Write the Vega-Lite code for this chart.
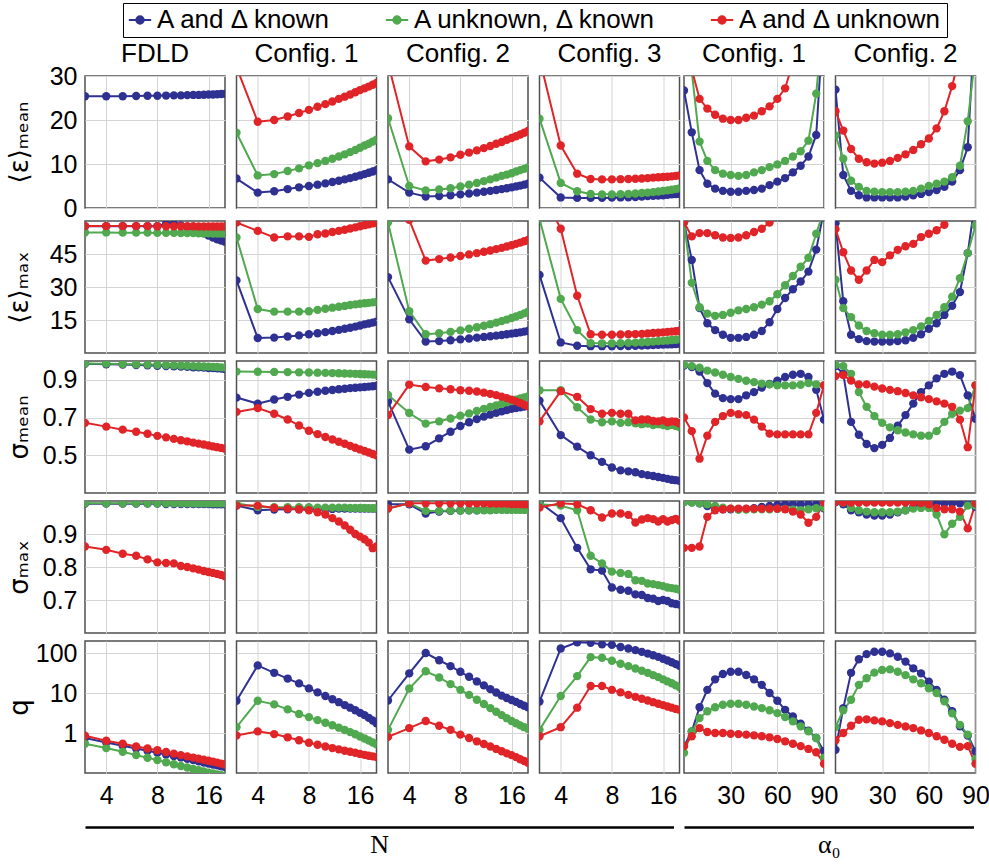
{
"$schema": "https://vega.github.io/schema/vega-lite/v6.json",
"padding": {"left": 6, "top": 2, "right": 0, "bottom": 2},
"background": "white",
"config": {
 "font": "Liberation Sans",
 "view": {"stroke": "#505050", "strokeWidth": 1.5},
 "axis": {"labelFont": "Liberation Sans", "labelFontSize": 25, "labelColor": "#000", "titleFont": "DejaVu Sans", "titleFontSize": 26, "titleFontWeight": "normal", "titleColor": "#000", "ticks": false, "domain": false, "gridColor": "#d4d4d4", "gridWidth": 1, "labelFlush": false, "labelOverlap": false},
 "header": {"labelFont": "Liberation Sans", "labelFontSize": 26, "labelColor": "#000"},
 "line": {"strokeWidth": 2},
 "point": {"filled": true, "size": 70, "opacity": 1}
},
"datasets": {"d": [
{"m":"e1","p":"F","x":3,"a":25.4},{"m":"e1","p":"F","x":4,"a":25.4},{"m":"e1","p":"F","x":5,"a":25.4},{"m":"e1","p":"F","x":6,"a":25.45},{"m":"e1","p":"F","x":7,"a":25.5},{"m":"e1","p":"F","x":8,"a":25.5},{"m":"e1","p":"F","x":9,"a":25.55},{"m":"e1","p":"F","x":10,"a":25.6},{"m":"e1","p":"F","x":11,"a":25.6},{"m":"e1","p":"F","x":12,"a":25.65},{"m":"e1","p":"F","x":13,"a":25.7},{"m":"e1","p":"F","x":14,"a":25.7},{"m":"e1","p":"F","x":15,"a":25.75},{"m":"e1","p":"F","x":16,"a":25.8},{"m":"e1","p":"F","x":17,"a":25.8},{"m":"e1","p":"F","x":18,"a":25.85},{"m":"e1","p":"F","x":19,"a":25.9},{"m":"e1","p":"F","x":20,"a":25.95},
{"m":"e2","p":"F","x":3,"a":57.6,"b":54.8,"c":57.7},{"m":"e2","p":"F","x":4,"a":57.6,"b":54.8,"c":57.7},{"m":"e2","p":"F","x":5,"a":57.6,"b":54.7,"c":57.7},{"m":"e2","p":"F","x":6,"a":57.6,"b":54.7,"c":57.7},{"m":"e2","p":"F","x":7,"a":57.6,"b":54.7,"c":57.7},{"m":"e2","p":"F","x":8,"a":57.6,"b":54.6,"c":57.6},{"m":"e2","p":"F","x":9,"a":58.8,"b":54.6,"c":57.6},{"m":"e2","p":"F","x":10,"a":58.6,"b":54.6,"c":57.6},{"m":"e2","p":"F","x":11,"a":58.0,"b":54.5,"c":57.6},{"m":"e2","p":"F","x":12,"a":57.3,"b":54.5,"c":57.6},{"m":"e2","p":"F","x":13,"a":56.5,"b":54.5,"c":57.6},{"m":"e2","p":"F","x":14,"a":55.5,"b":54.4,"c":57.5},{"m":"e2","p":"F","x":15,"a":54.4,"b":54.4,"c":57.5},{"m":"e2","p":"F","x":16,"a":53.4,"b":54.4,"c":57.5},{"m":"e2","p":"F","x":17,"a":52.5,"b":54.3,"c":57.5},{"m":"e2","p":"F","x":18,"a":51.7,"b":54.3,"c":57.5},{"m":"e2","p":"F","x":19,"a":51.1,"b":54.3,"c":57.5},{"m":"e2","p":"F","x":20,"a":50.6,"b":54.3,"c":57.5},
{"m":"s1","p":"F","x":3,"a":0.985,"b":0.987,"c":0.672},{"m":"s1","p":"F","x":4,"a":0.983,"b":0.986,"c":0.652},{"m":"s1","p":"F","x":5,"a":0.981,"b":0.984,"c":0.636},{"m":"s1","p":"F","x":6,"a":0.979,"b":0.983,"c":0.625},{"m":"s1","p":"F","x":7,"a":0.977,"b":0.981,"c":0.614},{"m":"s1","p":"F","x":8,"a":0.975,"b":0.98,"c":0.603},{"m":"s1","p":"F","x":9,"a":0.973,"b":0.978,"c":0.595},{"m":"s1","p":"F","x":10,"a":0.972,"b":0.977,"c":0.587},{"m":"s1","p":"F","x":11,"a":0.97,"b":0.976,"c":0.58},{"m":"s1","p":"F","x":12,"a":0.969,"b":0.975,"c":0.574},{"m":"s1","p":"F","x":13,"a":0.967,"b":0.973,"c":0.567},{"m":"s1","p":"F","x":14,"a":0.966,"b":0.972,"c":0.562},{"m":"s1","p":"F","x":15,"a":0.965,"b":0.971,"c":0.557},{"m":"s1","p":"F","x":16,"a":0.963,"b":0.97,"c":0.552},{"m":"s1","p":"F","x":17,"a":0.962,"b":0.969,"c":0.547},{"m":"s1","p":"F","x":18,"a":0.961,"b":0.968,"c":0.543},{"m":"s1","p":"F","x":19,"a":0.96,"b":0.966,"c":0.539},{"m":"s1","p":"F","x":20,"a":0.958,"b":0.965,"c":0.535},
{"m":"s2","p":"F","x":3,"a":0.992,"b":0.993,"c":0.862},{"m":"s2","p":"F","x":4,"a":0.992,"b":0.993,"c":0.852},{"m":"s2","p":"F","x":5,"a":0.992,"b":0.993,"c":0.84},{"m":"s2","p":"F","x":6,"a":0.992,"b":0.993,"c":0.834},{"m":"s2","p":"F","x":7,"a":0.992,"b":0.993,"c":0.823},{"m":"s2","p":"F","x":8,"a":0.992,"b":0.993,"c":0.814},{"m":"s2","p":"F","x":9,"a":0.991,"b":0.993,"c":0.812},{"m":"s2","p":"F","x":10,"a":0.991,"b":0.993,"c":0.811},{"m":"s2","p":"F","x":11,"a":0.991,"b":0.993,"c":0.803},{"m":"s2","p":"F","x":12,"a":0.991,"b":0.993,"c":0.8},{"m":"s2","p":"F","x":13,"a":0.991,"b":0.993,"c":0.796},{"m":"s2","p":"F","x":14,"a":0.991,"b":0.993,"c":0.792},{"m":"s2","p":"F","x":15,"a":0.991,"b":0.993,"c":0.788},{"m":"s2","p":"F","x":16,"a":0.991,"b":0.993,"c":0.785},{"m":"s2","p":"F","x":17,"a":0.99,"b":0.993,"c":0.782},{"m":"s2","p":"F","x":18,"a":0.99,"b":0.993,"c":0.779},{"m":"s2","p":"F","x":19,"a":0.99,"b":0.993,"c":0.776},{"m":"s2","p":"F","x":20,"a":0.99,"b":0.993,"c":0.772},
{"m":"q","p":"F","x":3,"a":0.75,"b":0.54,"c":0.86},{"m":"q","p":"F","x":4,"a":0.58,"b":0.42,"c":0.64},{"m":"q","p":"F","x":5,"a":0.48,"b":0.34,"c":0.54},{"m":"q","p":"F","x":6,"a":0.41,"b":0.28,"c":0.46},{"m":"q","p":"F","x":7,"a":0.36,"b":0.24,"c":0.41},{"m":"q","p":"F","x":8,"a":0.32,"b":0.21,"c":0.37},{"m":"q","p":"F","x":9,"a":0.29,"b":0.185,"c":0.335},{"m":"q","p":"F","x":10,"a":0.265,"b":0.165,"c":0.305},{"m":"q","p":"F","x":11,"a":0.245,"b":0.15,"c":0.28},{"m":"q","p":"F","x":12,"a":0.225,"b":0.137,"c":0.26},{"m":"q","p":"F","x":13,"a":0.21,"b":0.126,"c":0.243},{"m":"q","p":"F","x":14,"a":0.195,"b":0.117,"c":0.228},{"m":"q","p":"F","x":15,"a":0.183,"b":0.109,"c":0.215},{"m":"q","p":"F","x":16,"a":0.172,"b":0.102,"c":0.203},{"m":"q","p":"F","x":17,"a":0.163,"b":0.097,"c":0.192},{"m":"q","p":"F","x":18,"a":0.155,"b":0.092,"c":0.182},{"m":"q","p":"F","x":19,"a":0.147,"b":0.088,"c":0.172},{"m":"q","p":"F","x":20,"a":0.14,"b":0.084,"c":0.163},
{"m":"e1","p":"N1","x":3,"a":6.7,"b":17.1,"c":32},{"m":"e1","p":"N1","x":4,"a":3.5,"b":7.4,"c":19.6},{"m":"e1","p":"N1","x":5,"a":3.8,"b":7.7,"c":20.0},{"m":"e1","p":"N1","x":6,"a":4.3,"b":8.4,"c":20.8},{"m":"e1","p":"N1","x":7,"a":4.7,"b":9.0,"c":21.6},{"m":"e1","p":"N1","x":8,"a":5.0,"b":9.7,"c":22.3},{"m":"e1","p":"N1","x":9,"a":5.3,"b":10.2,"c":23.0},{"m":"e1","p":"N1","x":10,"a":5.6,"b":10.7,"c":23.6},{"m":"e1","p":"N1","x":11,"a":5.9,"b":11.2,"c":24.2},{"m":"e1","p":"N1","x":12,"a":6.2,"b":11.7,"c":24.8},{"m":"e1","p":"N1","x":13,"a":6.5,"b":12.2,"c":25.3},{"m":"e1","p":"N1","x":14,"a":6.8,"b":12.7,"c":25.8},{"m":"e1","p":"N1","x":15,"a":7.1,"b":13.2,"c":26.3},{"m":"e1","p":"N1","x":16,"a":7.4,"b":13.7,"c":26.8},{"m":"e1","p":"N1","x":17,"a":7.7,"b":14.2,"c":27.2},{"m":"e1","p":"N1","x":18,"a":8.0,"b":14.6,"c":27.6},{"m":"e1","p":"N1","x":19,"a":8.3,"b":15.1,"c":28.0},{"m":"e1","p":"N1","x":20,"a":8.6,"b":15.5,"c":28.4},
{"m":"e2","p":"N1","x":3,"a":33,"b":52.5,"c":59.3},{"m":"e2","p":"N1","x":4,"a":6.8,"b":20,"c":55.5},{"m":"e2","p":"N1","x":5,"a":7.0,"b":18.8,"c":52.5},{"m":"e2","p":"N1","x":6,"a":7.5,"b":18.8,"c":53},{"m":"e2","p":"N1","x":7,"a":8.0,"b":18.8,"c":53},{"m":"e2","p":"N1","x":8,"a":8.5,"b":19.0,"c":52.8},{"m":"e2","p":"N1","x":9,"a":9.0,"b":19.6,"c":54},{"m":"e2","p":"N1","x":10,"a":9.5,"b":20.1,"c":54.3},{"m":"e2","p":"N1","x":11,"a":10.0,"b":20.6,"c":55},{"m":"e2","p":"N1","x":12,"a":10.5,"b":21.0,"c":55.5},{"m":"e2","p":"N1","x":13,"a":11.0,"b":21.4,"c":56},{"m":"e2","p":"N1","x":14,"a":11.5,"b":21.8,"c":56.6},{"m":"e2","p":"N1","x":15,"a":12.0,"b":22.1,"c":57.1},{"m":"e2","p":"N1","x":16,"a":12.5,"b":22.4,"c":57.6},{"m":"e2","p":"N1","x":17,"a":13.0,"b":22.6,"c":58.1},{"m":"e2","p":"N1","x":18,"a":13.4,"b":22.8,"c":58.5},{"m":"e2","p":"N1","x":19,"a":13.8,"b":23.0,"c":58.9},{"m":"e2","p":"N1","x":20,"a":14.2,"b":23.2,"c":59.3},
{"m":"s1","p":"N1","x":3,"a":0.806,"b":0.944,"c":0.73},{"m":"s1","p":"N1","x":4,"a":0.774,"b":0.943,"c":0.75},{"m":"s1","p":"N1","x":5,"a":0.796,"b":0.942,"c":0.72},{"m":"s1","p":"N1","x":6,"a":0.81,"b":0.941,"c":0.69},{"m":"s1","p":"N1","x":7,"a":0.822,"b":0.94,"c":0.658},{"m":"s1","p":"N1","x":8,"a":0.831,"b":0.939,"c":0.63},{"m":"s1","p":"N1","x":9,"a":0.837,"b":0.938,"c":0.612},{"m":"s1","p":"N1","x":10,"a":0.842,"b":0.937,"c":0.597},{"m":"s1","p":"N1","x":11,"a":0.846,"b":0.936,"c":0.584},{"m":"s1","p":"N1","x":12,"a":0.85,"b":0.935,"c":0.572},{"m":"s1","p":"N1","x":13,"a":0.853,"b":0.934,"c":0.561},{"m":"s1","p":"N1","x":14,"a":0.856,"b":0.933,"c":0.55},{"m":"s1","p":"N1","x":15,"a":0.858,"b":0.932,"c":0.54},{"m":"s1","p":"N1","x":16,"a":0.86,"b":0.931,"c":0.531},{"m":"s1","p":"N1","x":17,"a":0.862,"b":0.93,"c":0.523},{"m":"s1","p":"N1","x":18,"a":0.864,"b":0.929,"c":0.515},{"m":"s1","p":"N1","x":19,"a":0.866,"b":0.928,"c":0.507},{"m":"s1","p":"N1","x":20,"a":0.868,"b":0.927,"c":0.5},
{"m":"s2","p":"N1","x":3,"a":0.986,"b":0.993,"c":0.986},{"m":"s2","p":"N1","x":4,"a":0.972,"b":0.982,"c":0.986},{"m":"s2","p":"N1","x":5,"a":0.974,"b":0.981,"c":0.979},{"m":"s2","p":"N1","x":6,"a":0.975,"b":0.981,"c":0.977},{"m":"s2","p":"N1","x":7,"a":0.975,"b":0.981,"c":0.975},{"m":"s2","p":"N1","x":8,"a":0.976,"b":0.981,"c":0.972},{"m":"s2","p":"N1","x":9,"a":0.976,"b":0.98,"c":0.966},{"m":"s2","p":"N1","x":10,"a":0.976,"b":0.98,"c":0.959},{"m":"s2","p":"N1","x":11,"a":0.976,"b":0.98,"c":0.948},{"m":"s2","p":"N1","x":12,"a":0.977,"b":0.98,"c":0.938},{"m":"s2","p":"N1","x":13,"a":0.977,"b":0.98,"c":0.926},{"m":"s2","p":"N1","x":14,"a":0.977,"b":0.979,"c":0.913},{"m":"s2","p":"N1","x":15,"a":0.977,"b":0.979,"c":0.9},{"m":"s2","p":"N1","x":16,"a":0.977,"b":0.979,"c":0.892},{"m":"s2","p":"N1","x":17,"a":0.977,"b":0.979,"c":0.884},{"m":"s2","p":"N1","x":18,"a":0.977,"b":0.978,"c":0.874},{"m":"s2","p":"N1","x":19,"a":0.977,"b":0.978,"c":0.857},{"m":"s2","p":"N1","x":20,"a":0.977,"b":0.978,"c":0.862},
{"m":"q","p":"N1","x":3,"a":6.4,"b":1.4,"c":0.87},{"m":"q","p":"N1","x":4,"a":49,"b":6.4,"c":1.1},{"m":"q","p":"N1","x":5,"a":32,"b":5.2,"c":0.94},{"m":"q","p":"N1","x":6,"a":23,"b":3.9,"c":0.78},{"m":"q","p":"N1","x":7,"a":17.4,"b":3.0,"c":0.66},{"m":"q","p":"N1","x":8,"a":13.1,"b":2.5,"c":0.57},{"m":"q","p":"N1","x":9,"a":10.4,"b":2.1,"c":0.51},{"m":"q","p":"N1","x":10,"a":8.4,"b":1.8,"c":0.46},{"m":"q","p":"N1","x":11,"a":7.0,"b":1.56,"c":0.42},{"m":"q","p":"N1","x":12,"a":5.9,"b":1.36,"c":0.39},{"m":"q","p":"N1","x":13,"a":5.0,"b":1.19,"c":0.36},{"m":"q","p":"N1","x":14,"a":4.3,"b":1.05,"c":0.34},{"m":"q","p":"N1","x":15,"a":3.7,"b":0.93,"c":0.32},{"m":"q","p":"N1","x":16,"a":3.2,"b":0.82,"c":0.3},{"m":"q","p":"N1","x":17,"a":2.8,"b":0.73,"c":0.285},{"m":"q","p":"N1","x":18,"a":2.4,"b":0.65,"c":0.27},{"m":"q","p":"N1","x":19,"a":2.05,"b":0.58,"c":0.26},{"m":"q","p":"N1","x":20,"a":1.75,"b":0.52,"c":0.25},
{"m":"e1","p":"N2","x":3,"a":6.5,"b":20.4,"c":33},{"m":"e1","p":"N2","x":4,"a":3.5,"b":5.0,"c":14.0},{"m":"e1","p":"N2","x":5,"a":2.6,"b":4.0,"c":10.6},{"m":"e1","p":"N2","x":6,"a":2.7,"b":4.2,"c":11.0},{"m":"e1","p":"N2","x":7,"a":2.9,"b":4.5,"c":11.5},{"m":"e1","p":"N2","x":8,"a":3.1,"b":4.9,"c":12.1},{"m":"e1","p":"N2","x":9,"a":3.3,"b":5.3,"c":12.6},{"m":"e1","p":"N2","x":10,"a":3.5,"b":5.7,"c":13.1},{"m":"e1","p":"N2","x":11,"a":3.7,"b":6.1,"c":13.6},{"m":"e1","p":"N2","x":12,"a":3.9,"b":6.5,"c":14.1},{"m":"e1","p":"N2","x":13,"a":4.1,"b":6.9,"c":14.6},{"m":"e1","p":"N2","x":14,"a":4.3,"b":7.3,"c":15.0},{"m":"e1","p":"N2","x":15,"a":4.5,"b":7.6,"c":15.5},{"m":"e1","p":"N2","x":16,"a":4.7,"b":7.9,"c":15.9},{"m":"e1","p":"N2","x":17,"a":4.9,"b":8.3,"c":16.3},{"m":"e1","p":"N2","x":18,"a":5.1,"b":8.6,"c":16.7},{"m":"e1","p":"N2","x":19,"a":5.3,"b":8.9,"c":17.1},{"m":"e1","p":"N2","x":20,"a":5.5,"b":9.2,"c":17.5},
{"m":"e2","p":"N2","x":3,"a":34.5,"b":59.3,"c":75},{"m":"e2","p":"N2","x":4,"a":15.3,"b":19,"c":60.5},{"m":"e2","p":"N2","x":5,"a":5.2,"b":8.5,"c":42},{"m":"e2","p":"N2","x":6,"a":5.4,"b":9.0,"c":42.7},{"m":"e2","p":"N2","x":7,"a":5.8,"b":9.6,"c":43.4},{"m":"e2","p":"N2","x":8,"a":6.2,"b":10.3,"c":44.1},{"m":"e2","p":"N2","x":9,"a":6.6,"b":11.0,"c":44.8},{"m":"e2","p":"N2","x":10,"a":7.0,"b":11.7,"c":45.4},{"m":"e2","p":"N2","x":11,"a":7.3,"b":12.4,"c":46},{"m":"e2","p":"N2","x":12,"a":7.6,"b":13.1,"c":46.6},{"m":"e2","p":"N2","x":13,"a":7.9,"b":13.8,"c":47.2},{"m":"e2","p":"N2","x":14,"a":8.2,"b":14.5,"c":47.8},{"m":"e2","p":"N2","x":15,"a":8.5,"b":15.2,"c":48.4},{"m":"e2","p":"N2","x":16,"a":8.8,"b":15.9,"c":49.0},{"m":"e2","p":"N2","x":17,"a":9.1,"b":16.6,"c":49.6},{"m":"e2","p":"N2","x":18,"a":9.4,"b":17.3,"c":50.2},{"m":"e2","p":"N2","x":19,"a":9.7,"b":18.0,"c":50.8},{"m":"e2","p":"N2","x":20,"a":10.0,"b":18.8,"c":51.4},
{"m":"s1","p":"N2","x":3,"a":0.785,"b":0.82,"c":0.713},{"m":"s1","p":"N2","x":4,"a":0.53,"b":0.724,"c":0.875},{"m":"s1","p":"N2","x":5,"a":0.548,"b":0.668,"c":0.862},{"m":"s1","p":"N2","x":6,"a":0.59,"b":0.68,"c":0.855},{"m":"s1","p":"N2","x":7,"a":0.625,"b":0.695,"c":0.85},{"m":"s1","p":"N2","x":8,"a":0.655,"b":0.71,"c":0.845},{"m":"s1","p":"N2","x":9,"a":0.675,"b":0.722,"c":0.842},{"m":"s1","p":"N2","x":10,"a":0.692,"b":0.735,"c":0.838},{"m":"s1","p":"N2","x":11,"a":0.705,"b":0.746,"c":0.832},{"m":"s1","p":"N2","x":12,"a":0.716,"b":0.756,"c":0.826},{"m":"s1","p":"N2","x":13,"a":0.725,"b":0.765,"c":0.819},{"m":"s1","p":"N2","x":14,"a":0.733,"b":0.773,"c":0.811},{"m":"s1","p":"N2","x":15,"a":0.74,"b":0.781,"c":0.803},{"m":"s1","p":"N2","x":16,"a":0.746,"b":0.788,"c":0.795},{"m":"s1","p":"N2","x":17,"a":0.751,"b":0.795,"c":0.786},{"m":"s1","p":"N2","x":18,"a":0.755,"b":0.801,"c":0.777},{"m":"s1","p":"N2","x":19,"a":0.758,"b":0.807,"c":0.768},{"m":"s1","p":"N2","x":20,"a":0.762,"b":0.812,"c":0.76},
{"m":"s2","p":"N2","x":3,"a":0.99,"b":0.977,"c":0.977},{"m":"s2","p":"N2","x":4,"a":0.99,"b":0.993,"c":0.993},{"m":"s2","p":"N2","x":5,"a":0.962,"b":0.97,"c":0.993},{"m":"s2","p":"N2","x":6,"a":0.968,"b":0.97,"c":0.993},{"m":"s2","p":"N2","x":7,"a":0.97,"b":0.971,"c":0.993},{"m":"s2","p":"N2","x":8,"a":0.971,"b":0.971,"c":0.993},{"m":"s2","p":"N2","x":9,"a":0.972,"b":0.972,"c":0.993},{"m":"s2","p":"N2","x":10,"a":0.972,"b":0.972,"c":0.993},{"m":"s2","p":"N2","x":11,"a":0.973,"b":0.972,"c":0.993},{"m":"s2","p":"N2","x":12,"a":0.973,"b":0.972,"c":0.992},{"m":"s2","p":"N2","x":13,"a":0.974,"b":0.973,"c":0.992},{"m":"s2","p":"N2","x":14,"a":0.974,"b":0.973,"c":0.992},{"m":"s2","p":"N2","x":15,"a":0.974,"b":0.973,"c":0.992},{"m":"s2","p":"N2","x":16,"a":0.975,"b":0.973,"c":0.991},{"m":"s2","p":"N2","x":17,"a":0.975,"b":0.973,"c":0.991},{"m":"s2","p":"N2","x":18,"a":0.975,"b":0.973,"c":0.991},{"m":"s2","p":"N2","x":19,"a":0.975,"b":0.973,"c":0.99},{"m":"s2","p":"N2","x":20,"a":0.975,"b":0.973,"c":0.99},
{"m":"q","p":"N2","x":3,"a":6.5,"b":1.2,"c":0.8},{"m":"q","p":"N2","x":4,"a":31,"b":13,"c":1.33},{"m":"q","p":"N2","x":5,"a":100,"b":35,"c":2.0},{"m":"q","p":"N2","x":6,"a":66,"b":24.5,"c":1.52},{"m":"q","p":"N2","x":7,"a":47,"b":16.7,"c":1.2},{"m":"q","p":"N2","x":8,"a":34,"b":12,"c":0.91},{"m":"q","p":"N2","x":9,"a":25.5,"b":9.0,"c":0.75},{"m":"q","p":"N2","x":10,"a":19.5,"b":6.8,"c":0.62},{"m":"q","p":"N2","x":11,"a":15.5,"b":5.3,"c":0.53},{"m":"q","p":"N2","x":12,"a":12.5,"b":4.2,"c":0.46},{"m":"q","p":"N2","x":13,"a":10.3,"b":3.4,"c":0.4},{"m":"q","p":"N2","x":14,"a":8.6,"b":2.8,"c":0.35},{"m":"q","p":"N2","x":15,"a":7.5,"b":2.35,"c":0.31},{"m":"q","p":"N2","x":16,"a":6.7,"b":2.0,"c":0.28},{"m":"q","p":"N2","x":17,"a":6.0,"b":1.75,"c":0.25},{"m":"q","p":"N2","x":18,"a":5.3,"b":1.55,"c":0.22},{"m":"q","p":"N2","x":19,"a":4.8,"b":1.4,"c":0.2},{"m":"q","p":"N2","x":20,"a":4.4,"b":1.27,"c":0.18},
{"m":"e1","p":"N3","x":3,"a":6.9,"b":20.3,"c":34},{"m":"e1","p":"N3","x":4,"a":2.4,"b":5.7,"c":14.2},{"m":"e1","p":"N3","x":5,"a":2.3,"b":3.8,"c":7.8},{"m":"e1","p":"N3","x":6,"a":2.3,"b":3.2,"c":6.6},{"m":"e1","p":"N3","x":7,"a":2.3,"b":3.1,"c":6.5},{"m":"e1","p":"N3","x":8,"a":2.35,"b":3.1,"c":6.5},{"m":"e1","p":"N3","x":9,"a":2.4,"b":3.15,"c":6.55},{"m":"e1","p":"N3","x":10,"a":2.45,"b":3.2,"c":6.6},{"m":"e1","p":"N3","x":11,"a":2.5,"b":3.3,"c":6.65},{"m":"e1","p":"N3","x":12,"a":2.6,"b":3.4,"c":6.7},{"m":"e1","p":"N3","x":13,"a":2.7,"b":3.5,"c":6.8},{"m":"e1","p":"N3","x":14,"a":2.75,"b":3.6,"c":6.9},{"m":"e1","p":"N3","x":15,"a":2.85,"b":3.75,"c":7.0},{"m":"e1","p":"N3","x":16,"a":2.9,"b":3.9,"c":7.05},{"m":"e1","p":"N3","x":17,"a":3.0,"b":4.0,"c":7.1},{"m":"e1","p":"N3","x":18,"a":3.1,"b":4.15,"c":7.2},{"m":"e1","p":"N3","x":19,"a":3.15,"b":4.3,"c":7.3},{"m":"e1","p":"N3","x":20,"a":3.2,"b":4.45,"c":7.4},
{"m":"e2","p":"N3","x":3,"a":35.5,"b":61,"c":75},{"m":"e2","p":"N3","x":4,"a":4.8,"b":24.6,"c":56.5},{"m":"e2","p":"N3","x":5,"a":3.3,"b":10.4,"c":26},{"m":"e2","p":"N3","x":6,"a":3.1,"b":4.5,"c":8.5},{"m":"e2","p":"N3","x":7,"a":3.1,"b":4.4,"c":8.3},{"m":"e2","p":"N3","x":8,"a":3.1,"b":4.4,"c":8.3},{"m":"e2","p":"N3","x":9,"a":3.2,"b":4.5,"c":8.4},{"m":"e2","p":"N3","x":10,"a":3.2,"b":4.6,"c":8.5},{"m":"e2","p":"N3","x":11,"a":3.3,"b":4.7,"c":8.6},{"m":"e2","p":"N3","x":12,"a":3.4,"b":4.9,"c":8.7},{"m":"e2","p":"N3","x":13,"a":3.5,"b":5.0,"c":8.9},{"m":"e2","p":"N3","x":14,"a":3.6,"b":5.2,"c":9.1},{"m":"e2","p":"N3","x":15,"a":3.7,"b":5.4,"c":9.2},{"m":"e2","p":"N3","x":16,"a":3.8,"b":5.5,"c":9.4},{"m":"e2","p":"N3","x":17,"a":3.9,"b":5.7,"c":9.6},{"m":"e2","p":"N3","x":18,"a":4.0,"b":5.9,"c":9.7},{"m":"e2","p":"N3","x":19,"a":4.1,"b":6.0,"c":9.9},{"m":"e2","p":"N3","x":20,"a":4.2,"b":6.2,"c":10.1},
{"m":"s1","p":"N3","x":3,"a":0.79,"b":0.845,"c":0.68},{"m":"s1","p":"N3","x":4,"a":0.607,"b":0.845,"c":0.84},{"m":"s1","p":"N3","x":5,"a":0.546,"b":0.755,"c":0.81},{"m":"s1","p":"N3","x":6,"a":0.5,"b":0.69,"c":0.745},{"m":"s1","p":"N3","x":7,"a":0.465,"b":0.675,"c":0.72},{"m":"s1","p":"N3","x":8,"a":0.435,"b":0.68,"c":0.725},{"m":"s1","p":"N3","x":9,"a":0.42,"b":0.672,"c":0.72},{"m":"s1","p":"N3","x":10,"a":0.415,"b":0.675,"c":0.72},{"m":"s1","p":"N3","x":11,"a":0.41,"b":0.67,"c":0.685},{"m":"s1","p":"N3","x":12,"a":0.4,"b":0.665,"c":0.69},{"m":"s1","p":"N3","x":13,"a":0.395,"b":0.668,"c":0.69},{"m":"s1","p":"N3","x":14,"a":0.39,"b":0.66,"c":0.682},{"m":"s1","p":"N3","x":15,"a":0.385,"b":0.665,"c":0.68},{"m":"s1","p":"N3","x":16,"a":0.38,"b":0.66,"c":0.685},{"m":"s1","p":"N3","x":17,"a":0.375,"b":0.655,"c":0.675},{"m":"s1","p":"N3","x":18,"a":0.37,"b":0.662,"c":0.68},{"m":"s1","p":"N3","x":19,"a":0.368,"b":0.655,"c":0.678},{"m":"s1","p":"N3","x":20,"a":0.365,"b":0.65,"c":0.668},
{"m":"s2","p":"N3","x":3,"a":0.996,"b":0.99,"c":0.98},{"m":"s2","p":"N3","x":4,"a":0.948,"b":0.986,"c":0.993},{"m":"s2","p":"N3","x":5,"a":0.858,"b":0.972,"c":0.99},{"m":"s2","p":"N3","x":6,"a":0.793,"b":0.834,"c":0.972},{"m":"s2","p":"N3","x":7,"a":0.789,"b":0.811,"c":0.95},{"m":"s2","p":"N3","x":8,"a":0.738,"b":0.786,"c":0.962},{"m":"s2","p":"N3","x":9,"a":0.731,"b":0.782,"c":0.962},{"m":"s2","p":"N3","x":10,"a":0.728,"b":0.779,"c":0.958},{"m":"s2","p":"N3","x":11,"a":0.717,"b":0.76,"c":0.935},{"m":"s2","p":"N3","x":12,"a":0.715,"b":0.758,"c":0.944},{"m":"s2","p":"N3","x":13,"a":0.706,"b":0.75,"c":0.948},{"m":"s2","p":"N3","x":14,"a":0.704,"b":0.748,"c":0.945},{"m":"s2","p":"N3","x":15,"a":0.697,"b":0.745,"c":0.938},{"m":"s2","p":"N3","x":16,"a":0.7,"b":0.742,"c":0.945},{"m":"s2","p":"N3","x":17,"a":0.697,"b":0.738,"c":0.938},{"m":"s2","p":"N3","x":18,"a":0.69,"b":0.736,"c":0.942},{"m":"s2","p":"N3","x":19,"a":0.688,"b":0.734,"c":0.946},{"m":"s2","p":"N3","x":20,"a":0.686,"b":0.731,"c":0.94},
{"m":"q","p":"N3","x":3,"a":6.1,"b":1.2,"c":0.83},{"m":"q","p":"N3","x":4,"a":130,"b":8.4,"c":1.4},{"m":"q","p":"N3","x":5,"a":185,"b":26.5,"c":4.3},{"m":"q","p":"N3","x":6,"a":180,"b":79,"c":15},{"m":"q","p":"N3","x":7,"a":165,"b":76,"c":15},{"m":"q","p":"N3","x":8,"a":160,"b":64,"c":12},{"m":"q","p":"N3","x":9,"a":142,"b":54,"c":10.4},{"m":"q","p":"N3","x":10,"a":130,"b":47,"c":9.0},{"m":"q","p":"N3","x":11,"a":118,"b":41,"c":8.0},{"m":"q","p":"N3","x":12,"a":107,"b":36,"c":7.2},{"m":"q","p":"N3","x":13,"a":97,"b":32,"c":6.5},{"m":"q","p":"N3","x":14,"a":88,"b":28,"c":5.9},{"m":"q","p":"N3","x":15,"a":80,"b":25,"c":5.4},{"m":"q","p":"N3","x":16,"a":72,"b":22,"c":5.0},{"m":"q","p":"N3","x":17,"a":65,"b":19.5,"c":4.6},{"m":"q","p":"N3","x":18,"a":59,"b":17.5,"c":4.3},{"m":"q","p":"N3","x":19,"a":53,"b":15.5,"c":4.0},{"m":"q","p":"N3","x":20,"a":48,"b":14,"c":3.8},
{"m":"e1","p":"A1","x":0,"a":26.7,"b":45,"c":50},{"m":"e1","p":"A1","x":5,"a":17.2,"b":31,"c":31.5},{"m":"e1","p":"A1","x":10,"a":8.6,"b":15.1,"c":24.8},{"m":"e1","p":"A1","x":15,"a":5.5,"b":10.7,"c":22.6},{"m":"e1","p":"A1","x":20,"a":4.4,"b":8.6,"c":21.2},{"m":"e1","p":"A1","x":25,"a":3.9,"b":7.8,"c":20.3},{"m":"e1","p":"A1","x":30,"a":3.7,"b":7.5,"c":20.0},{"m":"e1","p":"A1","x":35,"a":3.7,"b":7.3,"c":20.0},{"m":"e1","p":"A1","x":40,"a":3.9,"b":7.5,"c":20.5},{"m":"e1","p":"A1","x":45,"a":4.1,"b":8.1,"c":21.0},{"m":"e1","p":"A1","x":50,"a":4.4,"b":8.6,"c":22.0},{"m":"e1","p":"A1","x":55,"a":5.2,"b":9.3,"c":23.1},{"m":"e1","p":"A1","x":60,"a":6.0,"b":9.9,"c":24.8},{"m":"e1","p":"A1","x":65,"a":6.8,"b":10.7,"c":27.2},{"m":"e1","p":"A1","x":70,"a":8.1,"b":11.7,"c":33},{"m":"e1","p":"A1","x":75,"a":9.6,"b":12.9},{"m":"e1","p":"A1","x":80,"a":11.7,"b":15.3},{"m":"e1","p":"A1","x":85,"a":16.6,"b":26},{"m":"e1","p":"A1","x":90,"a":45,"b":45},
{"m":"e2","p":"A1","x":0,"a":59.4,"b":59.4,"c":59.4},{"m":"e2","p":"A1","x":5,"a":42.3,"b":31.9,"c":53},{"m":"e2","p":"A1","x":10,"a":20.4,"b":20.8,"c":54.5},{"m":"e2","p":"A1","x":15,"a":13.5,"b":17.9,"c":54.5},{"m":"e2","p":"A1","x":20,"a":10.4,"b":16.9,"c":53.5},{"m":"e2","p":"A1","x":25,"a":8.3,"b":17.3,"c":52.5},{"m":"e2","p":"A1","x":30,"a":6.9,"b":18.3,"c":52.3},{"m":"e2","p":"A1","x":35,"a":6.9,"b":19.4,"c":52.5},{"m":"e2","p":"A1","x":40,"a":7.3,"b":20,"c":53.5},{"m":"e2","p":"A1","x":45,"a":8.3,"b":20.8,"c":55},{"m":"e2","p":"A1","x":50,"a":10,"b":22,"c":56.5},{"m":"e2","p":"A1","x":55,"a":14,"b":23.5,"c":59.3},{"m":"e2","p":"A1","x":60,"a":20,"b":26.7},{"m":"e2","p":"A1","x":65,"a":25,"b":30.8},{"m":"e2","p":"A1","x":70,"a":29,"b":35},{"m":"e2","p":"A1","x":75,"a":32.5,"b":39.2},{"m":"e2","p":"A1","x":80,"a":37,"b":43.3},{"m":"e2","p":"A1","x":85,"a":47,"b":54.2},{"m":"e2","p":"A1","x":90,"a":65,"b":65},
{"m":"s1","p":"A1","x":0,"a":0.976,"b":0.98,"c":0.701},{"m":"s1","p":"A1","x":5,"a":0.968,"b":0.973,"c":0.628},{"m":"s1","p":"A1","x":10,"a":0.944,"b":0.964,"c":0.482},{"m":"s1","p":"A1","x":15,"a":0.883,"b":0.949,"c":0.604},{"m":"s1","p":"A1","x":20,"a":0.827,"b":0.939,"c":0.677},{"m":"s1","p":"A1","x":25,"a":0.803,"b":0.927,"c":0.708},{"m":"s1","p":"A1","x":30,"a":0.798,"b":0.915,"c":0.725},{"m":"s1","p":"A1","x":35,"a":0.798,"b":0.905,"c":0.718},{"m":"s1","p":"A1","x":40,"a":0.818,"b":0.895,"c":0.713},{"m":"s1","p":"A1","x":45,"a":0.835,"b":0.888,"c":0.689},{"m":"s1","p":"A1","x":50,"a":0.859,"b":0.88,"c":0.652},{"m":"s1","p":"A1","x":55,"a":0.878,"b":0.876,"c":0.615},{"m":"s1","p":"A1","x":60,"a":0.895,"b":0.871,"c":0.611},{"m":"s1","p":"A1","x":65,"a":0.915,"b":0.871,"c":0.611},{"m":"s1","p":"A1","x":70,"a":0.927,"b":0.871,"c":0.611},{"m":"s1","p":"A1","x":75,"a":0.932,"b":0.874,"c":0.611},{"m":"s1","p":"A1","x":80,"a":0.915,"b":0.883,"c":0.611},{"m":"s1","p":"A1","x":85,"a":0.847,"b":0.876,"c":0.725},{"m":"s1","p":"A1","x":90,"a":0.689,"b":0.871,"c":0.871},
{"m":"s2","p":"A1","x":0,"a":0.997,"b":0.997,"c":0.858},{"m":"s2","p":"A1","x":5,"a":0.996,"b":0.995,"c":0.858},{"m":"s2","p":"A1","x":10,"a":0.993,"b":0.993,"c":0.862},{"m":"s2","p":"A1","x":15,"a":0.985,"b":0.99,"c":0.952},{"m":"s2","p":"A1","x":20,"a":0.978,"b":0.985,"c":0.972},{"m":"s2","p":"A1","x":25,"a":0.975,"b":0.98,"c":0.975},{"m":"s2","p":"A1","x":30,"a":0.975,"b":0.977,"c":0.977},{"m":"s2","p":"A1","x":35,"a":0.975,"b":0.974,"c":0.977},{"m":"s2","p":"A1","x":40,"a":0.976,"b":0.974,"c":0.977},{"m":"s2","p":"A1","x":45,"a":0.978,"b":0.975,"c":0.977},{"m":"s2","p":"A1","x":50,"a":0.982,"b":0.975,"c":0.977},{"m":"s2","p":"A1","x":55,"a":0.985,"b":0.975,"c":0.977},{"m":"s2","p":"A1","x":60,"a":0.988,"b":0.976,"c":0.977},{"m":"s2","p":"A1","x":65,"a":0.99,"b":0.976,"c":0.975},{"m":"s2","p":"A1","x":70,"a":0.99,"b":0.974,"c":0.968},{"m":"s2","p":"A1","x":75,"a":0.99,"b":0.972,"c":0.959},{"m":"s2","p":"A1","x":80,"a":0.99,"b":0.975,"c":0.934},{"m":"s2","p":"A1","x":85,"a":0.99,"b":0.978,"c":0.952},{"m":"s2","p":"A1","x":90,"a":0.978,"b":0.98,"c":0.996},
{"m":"q","p":"A1","x":0,"a":0.47,"b":0.32,"c":0.47},{"m":"q","p":"A1","x":5,"a":1.1,"b":1.1,"c":0.83},{"m":"q","p":"A1","x":10,"a":4.4,"b":2.36,"c":1.33},{"m":"q","p":"A1","x":15,"a":12,"b":3.5,"c":1.06},{"m":"q","p":"A1","x":20,"a":22,"b":4.4,"c":1.0},{"m":"q","p":"A1","x":25,"a":30,"b":5.1,"c":1.0},{"m":"q","p":"A1","x":30,"a":34,"b":5.4,"c":0.96},{"m":"q","p":"A1","x":35,"a":34,"b":5.4,"c":0.94},{"m":"q","p":"A1","x":40,"a":28.3,"b":5.1,"c":0.91},{"m":"q","p":"A1","x":45,"a":22,"b":4.6,"c":0.875},{"m":"q","p":"A1","x":50,"a":16,"b":4.2,"c":0.83},{"m":"q","p":"A1","x":55,"a":10,"b":3.7,"c":0.78},{"m":"q","p":"A1","x":60,"a":6.4,"b":3.15,"c":0.71},{"m":"q","p":"A1","x":65,"a":3.8,"b":2.5,"c":0.62},{"m":"q","p":"A1","x":70,"a":2.6,"b":1.95,"c":0.54},{"m":"q","p":"A1","x":75,"a":1.7,"b":1.47,"c":0.47},{"m":"q","p":"A1","x":80,"a":1.14,"b":1.1,"c":0.4},{"m":"q","p":"A1","x":85,"a":0.75,"b":0.75,"c":0.33},{"m":"q","p":"A1","x":90,"a":0.35,"b":0.24,"c":0.17},
{"m":"e1","p":"A2","x":0,"a":26.9,"b":16.5,"c":22},{"m":"e1","p":"A2","x":5,"a":7.5,"b":11.2,"c":17.6},{"m":"e1","p":"A2","x":10,"a":3.9,"b":6.2,"c":13.4},{"m":"e1","p":"A2","x":15,"a":2.9,"b":4.8,"c":11.2},{"m":"e1","p":"A2","x":20,"a":2.4,"b":3.9,"c":10.4},{"m":"e1","p":"A2","x":25,"a":2.4,"b":3.7,"c":10.1},{"m":"e1","p":"A2","x":30,"a":2.4,"b":3.6,"c":10.3},{"m":"e1","p":"A2","x":35,"a":2.4,"b":3.6,"c":10.7},{"m":"e1","p":"A2","x":40,"a":2.4,"b":3.6,"c":11.4},{"m":"e1","p":"A2","x":45,"a":2.6,"b":3.7,"c":12.2},{"m":"e1","p":"A2","x":50,"a":2.9,"b":3.9,"c":13.2},{"m":"e1","p":"A2","x":55,"a":3.2,"b":4.4,"c":14.5},{"m":"e1","p":"A2","x":60,"a":3.6,"b":5.0,"c":15.8},{"m":"e1","p":"A2","x":65,"a":4.1,"b":5.5,"c":18.1},{"m":"e1","p":"A2","x":70,"a":4.8,"b":6.0,"c":22},{"m":"e1","p":"A2","x":75,"a":6.0,"b":7.0,"c":27.7},{"m":"e1","p":"A2","x":80,"a":8.6,"b":9.6,"c":35},{"m":"e1","p":"A2","x":85,"a":13.8,"b":19.7},{"m":"e1","p":"A2","x":90,"a":45,"b":35},
{"m":"e2","p":"A2","x":0,"a":59,"b":33.3,"c":56.3},{"m":"e2","p":"A2","x":5,"a":23.5,"b":20.4,"c":45.8},{"m":"e2","p":"A2","x":10,"a":8.3,"b":16.3,"c":37.5},{"m":"e2","p":"A2","x":15,"a":6.3,"b":12.5,"c":33.3},{"m":"e2","p":"A2","x":20,"a":5.4,"b":10,"c":37.5},{"m":"e2","p":"A2","x":25,"a":5.2,"b":9.0,"c":42.3},{"m":"e2","p":"A2","x":30,"a":5.2,"b":8.3,"c":41.3},{"m":"e2","p":"A2","x":35,"a":5.2,"b":8.3,"c":44.4},{"m":"e2","p":"A2","x":40,"a":5.4,"b":8.5,"c":46.9},{"m":"e2","p":"A2","x":45,"a":5.8,"b":9.4,"c":48.5},{"m":"e2","p":"A2","x":50,"a":6.9,"b":10.4,"c":49.6},{"m":"e2","p":"A2","x":55,"a":8.5,"b":12.1,"c":52.7},{"m":"e2","p":"A2","x":60,"a":11.0,"b":14.6,"c":54.2},{"m":"e2","p":"A2","x":65,"a":13.5,"b":17.3,"c":55.8},{"m":"e2","p":"A2","x":70,"a":17.3,"b":20.8,"c":58.3},{"m":"e2","p":"A2","x":75,"a":21.5,"b":25.6},{"m":"e2","p":"A2","x":80,"a":27.7,"b":34},{"m":"e2","p":"A2","x":85,"a":45.4,"b":45.4},{"m":"e2","p":"A2","x":90,"a":70,"b":58},
{"m":"s1","p":"A2","x":0,"a":0.973,"b":0.98,"c":0.92},{"m":"s1","p":"A2","x":5,"a":0.932,"b":0.973,"c":0.925},{"m":"s1","p":"A2","x":10,"a":0.677,"b":0.932,"c":0.896},{"m":"s1","p":"A2","x":15,"a":0.609,"b":0.835,"c":0.876},{"m":"s1","p":"A2","x":20,"a":0.56,"b":0.757,"c":0.876},{"m":"s1","p":"A2","x":25,"a":0.538,"b":0.708,"c":0.864},{"m":"s1","p":"A2","x":30,"a":0.555,"b":0.672,"c":0.854},{"m":"s1","p":"A2","x":35,"a":0.592,"b":0.648,"c":0.847},{"m":"s1","p":"A2","x":40,"a":0.657,"b":0.633,"c":0.84},{"m":"s1","p":"A2","x":45,"a":0.713,"b":0.621,"c":0.83},{"m":"s1","p":"A2","x":50,"a":0.774,"b":0.611,"c":0.818},{"m":"s1","p":"A2","x":55,"a":0.835,"b":0.604,"c":0.808},{"m":"s1","p":"A2","x":60,"a":0.871,"b":0.604,"c":0.798},{"m":"s1","p":"A2","x":65,"a":0.908,"b":0.628,"c":0.786},{"m":"s1","p":"A2","x":70,"a":0.932,"b":0.677,"c":0.774},{"m":"s1","p":"A2","x":75,"a":0.944,"b":0.72,"c":0.757},{"m":"s1","p":"A2","x":80,"a":0.925,"b":0.737,"c":0.689},{"m":"s1","p":"A2","x":85,"a":0.818,"b":0.75,"c":0.543},{"m":"s1","p":"A2","x":90,"a":0.694,"b":0.871,"c":0.871},
{"m":"s2","p":"A2","x":0,"a":0.997,"b":0.997,"c":0.997},{"m":"s2","p":"A2","x":5,"a":0.99,"b":0.995,"c":0.996},{"m":"s2","p":"A2","x":10,"a":0.972,"b":0.979,"c":0.995},{"m":"s2","p":"A2","x":15,"a":0.966,"b":0.972,"c":0.995},{"m":"s2","p":"A2","x":20,"a":0.959,"b":0.968,"c":0.995},{"m":"s2","p":"A2","x":25,"a":0.956,"b":0.966,"c":0.995},{"m":"s2","p":"A2","x":30,"a":0.956,"b":0.966,"c":0.995},{"m":"s2","p":"A2","x":35,"a":0.959,"b":0.966,"c":0.995},{"m":"s2","p":"A2","x":40,"a":0.966,"b":0.968,"c":0.995},{"m":"s2","p":"A2","x":45,"a":0.972,"b":0.972,"c":0.995},{"m":"s2","p":"A2","x":50,"a":0.982,"b":0.977,"c":0.995},{"m":"s2","p":"A2","x":55,"a":0.986,"b":0.979,"c":0.994},{"m":"s2","p":"A2","x":60,"a":0.99,"b":0.979,"c":0.99},{"m":"s2","p":"A2","x":65,"a":0.993,"b":0.959,"c":0.979},{"m":"s2","p":"A2","x":70,"a":0.993,"b":0.899,"c":0.975},{"m":"s2","p":"A2","x":75,"a":0.993,"b":0.931,"c":0.975},{"m":"s2","p":"A2","x":80,"a":0.993,"b":0.952,"c":0.968},{"m":"s2","p":"A2","x":85,"a":0.99,"b":0.986,"c":0.917},{"m":"s2","p":"A2","x":90,"a":0.982,"b":0.986,"c":0.993},
{"m":"q","p":"A2","x":0,"a":0.38,"b":1.41,"c":0.66},{"m":"q","p":"A2","x":5,"a":4.2,"b":3.7,"c":1.0},{"m":"q","p":"A2","x":10,"a":32,"b":6.8,"c":1.52},{"m":"q","p":"A2","x":15,"a":70,"b":16,"c":2.15},{"m":"q","p":"A2","x":20,"a":94,"b":23.4,"c":2.2},{"m":"q","p":"A2","x":25,"a":108,"b":32.4,"c":2.07},{"m":"q","p":"A2","x":30,"a":108,"b":37.8,"c":1.95},{"m":"q","p":"A2","x":35,"a":98,"b":39,"c":1.77},{"m":"q","p":"A2","x":40,"a":81,"b":34,"c":1.6},{"m":"q","p":"A2","x":45,"a":61,"b":28,"c":1.46},{"m":"q","p":"A2","x":50,"a":41.5,"b":22,"c":1.33},{"m":"q","p":"A2","x":55,"a":31,"b":17.6,"c":1.16},{"m":"q","p":"A2","x":60,"a":19.3,"b":13.2,"c":1.0},{"m":"q","p":"A2","x":65,"a":12,"b":10,"c":0.83},{"m":"q","p":"A2","x":70,"a":6.8,"b":6.2,"c":0.68},{"m":"q","p":"A2","x":75,"a":3.5,"b":3.1,"c":0.54},{"m":"q","p":"A2","x":80,"a":1.47,"b":1.6,"c":0.45},{"m":"q","p":"A2","x":85,"a":0.86,"b":0.91,"c":0.47},{"m":"q","p":"A2","x":90,"a":0.35,"b":0.22,"c":0.17}
]},
"spacing": -6.2,
"vconcat": [
{"spacing": 2, "hconcat": [
 {"data": {"name": "d"}, "transform": [{"filter": "datum.m=='e1' && datum.p!='A1' && datum.p!='A2'"}, {"fold": ["a","b","c"], "as": ["s","v"]}],
  "facet": {"column": {"field": "p", "type": "nominal", "title": null, "header": {"labelExpr": "datum.value=='F' ? 'FDLD' : 'Config. ' + slice(datum.value, 1)", "labelPadding": 8}}},
  "spacing": 9.5,
  "spec": {"width": 140, "height": 132,
   "layer": [
    {"mark": {"type": "line", "clip": true}, "encoding": {
      "x": {"field": "x", "type": "quantitative", "scale": {"type": "log", "domain": [3, 20], "nice": false}, "axis": {"values": [4,8,16], "labels": false, "title": null}},
      "y": {"field": "v", "type": "quantitative", "scale": {"domain": [0, 30], "nice": false, "zero": false}, "axis": {"values": [0,10,20,30], "title": "⟨ε⟩ₘₑₐₙ", "format": "d", "labelPadding": 7, "minExtent": 48, "maxExtent": 48, "titlePadding": 4}},
      "color": {"field": "s", "type": "nominal", "scale": {"domain": ["a","b","c"], "range": ["#2e3192","#50a84f","#e02428"]}, "legend": {"orient": "none", "legendX": 38, "legendY": -73, "direction": "horizontal", "title": null, "labelFontSize": 26, "labelFont": "Liberation Sans", "labelLimit": 0, "strokeColor": "#000", "padding": 4, "columnPadding": 49, "symbolType": "M-1,0L1,0M-0.33,0A0.33,0.33,0,1,0,0.33,0A0.33,0.33,0,1,0,-0.33,0", "symbolSize": 500, "symbolStrokeWidth": 2.5, "labelExpr": "datum.label=='a' ? 'A and Δ known' : datum.label=='b' ? 'A unknown, Δ known' : 'A and Δ unknown'"}}}},
    {"mark": {"type": "point", "clip": true}, "encoding": {
      "x": {"field": "x", "type": "quantitative", "scale": {"type": "log", "domain": [3, 20], "nice": false}, "axis": {"values": [5,6,7,9,10], "orient": "top", "labels": false, "title": null, "gridDash": [1,3], "gridColor": "#b5b5b5"}},
      "y": {"field": "v", "type": "quantitative", "scale": {"domain": [0, 30], "nice": false, "zero": false}, "axis": null},
      "color": {"field": "s", "type": "nominal", "scale": {"domain": ["a","b","c"], "range": ["#2e3192","#50a84f","#e02428"]}},
      "order": {"field": "s"}}}
   ],
   "resolve": {"axis": {"x": "independent", "y": "independent"}}}},
 {"data": {"name": "d"}, "transform": [{"filter": "datum.m=='e1' && (datum.p=='A1' || datum.p=='A2')"}, {"fold": ["a","b","c"], "as": ["s","v"]}],
  "facet": {"column": {"field": "p", "type": "nominal", "title": null, "header": {"labelExpr": "'Config. ' + slice(datum.value, 1)", "labelPadding": 8}}},
  "spacing": 9.5,
  "spec": {"width": 140, "height": 132,
   "layer": [
    {"mark": {"type": "line", "clip": true}, "encoding": {
      "x": {"field": "x", "type": "quantitative", "scale": {"domain": [0, 90], "nice": false}, "axis": {"values": [30,60,90], "labels": false, "title": null}},
      "y": {"field": "v", "type": "quantitative", "scale": {"domain": [0, 30], "nice": false, "zero": false}, "axis": {"values": [0,10,20,30], "labels": false, "title": null, "minExtent": 0, "maxExtent": 0}},
      "color": {"field": "s", "type": "nominal", "scale": {"domain": ["a","b","c"], "range": ["#2e3192","#50a84f","#e02428"]}}}},
    {"mark": {"type": "point", "clip": true}, "encoding": {
      "x": {"field": "x", "type": "quantitative", "scale": {"domain": [0, 90], "nice": false}, "axis": null},
      "y": {"field": "v", "type": "quantitative", "scale": {"domain": [0, 30], "nice": false, "zero": false}, "axis": null},
      "color": {"field": "s", "type": "nominal", "scale": {"domain": ["a","b","c"], "range": ["#2e3192","#50a84f","#e02428"]}},
      "order": {"field": "s"}}}
   ],
   "resolve": {"axis": {"x": "independent", "y": "independent"}}}}
]},
{"spacing": 6, "vconcat": [
{"spacing": 2, "hconcat": [
 {"data": {"name": "d"}, "transform": [{"filter": "datum.m=='e2' && datum.p!='A1' && datum.p!='A2'"}, {"fold": ["a","b","c"], "as": ["s","v"]}],
  "facet": {"column": {"field": "p", "type": "nominal", "title": null, "header": {"labels": false, "labelPadding": 0}}},
  "spacing": 9.5,
  "spec": {"width": 140, "height": 132,
   "layer": [
    {"mark": {"type": "line", "clip": true}, "encoding": {
      "x": {"field": "x", "type": "quantitative", "scale": {"type": "log", "domain": [3, 20], "nice": false}, "axis": {"values": [4,8,16], "labels": false, "title": null}},
      "y": {"field": "v", "type": "quantitative", "scale": {"domain": [0, 60], "nice": false, "zero": false}, "axis": {"values": [15,30,45], "title": "⟨ε⟩ₘₐₓ", "format": "d", "labelPadding": 7, "minExtent": 48, "maxExtent": 48, "titlePadding": 4}},
      "color": {"field": "s", "type": "nominal", "scale": {"domain": ["a","b","c"], "range": ["#2e3192","#50a84f","#e02428"]}}}},
    {"mark": {"type": "point", "clip": true}, "encoding": {
      "x": {"field": "x", "type": "quantitative", "scale": {"type": "log", "domain": [3, 20], "nice": false}, "axis": {"values": [5,6,7,9,10], "orient": "top", "labels": false, "title": null, "gridDash": [1,3], "gridColor": "#b5b5b5"}},
      "y": {"field": "v", "type": "quantitative", "scale": {"domain": [0, 60], "nice": false, "zero": false}, "axis": null},
      "color": {"field": "s", "type": "nominal", "scale": {"domain": ["a","b","c"], "range": ["#2e3192","#50a84f","#e02428"]}},
      "order": {"field": "s"}}}
   ],
   "resolve": {"axis": {"x": "independent", "y": "independent"}}}},
 {"data": {"name": "d"}, "transform": [{"filter": "datum.m=='e2' && (datum.p=='A1' || datum.p=='A2')"}, {"fold": ["a","b","c"], "as": ["s","v"]}],
  "facet": {"column": {"field": "p", "type": "nominal", "title": null, "header": {"labels": false, "labelPadding": 0}}},
  "spacing": 9.5,
  "spec": {"width": 140, "height": 132,
   "layer": [
    {"mark": {"type": "line", "clip": true}, "encoding": {
      "x": {"field": "x", "type": "quantitative", "scale": {"domain": [0, 90], "nice": false}, "axis": {"values": [30,60,90], "labels": false, "title": null}},
      "y": {"field": "v", "type": "quantitative", "scale": {"domain": [0, 60], "nice": false, "zero": false}, "axis": {"values": [15,30,45], "labels": false, "title": null, "minExtent": 0, "maxExtent": 0}},
      "color": {"field": "s", "type": "nominal", "scale": {"domain": ["a","b","c"], "range": ["#2e3192","#50a84f","#e02428"]}}}},
    {"mark": {"type": "point", "clip": true}, "encoding": {
      "x": {"field": "x", "type": "quantitative", "scale": {"domain": [0, 90], "nice": false}, "axis": null},
      "y": {"field": "v", "type": "quantitative", "scale": {"domain": [0, 60], "nice": false, "zero": false}, "axis": null},
      "color": {"field": "s", "type": "nominal", "scale": {"domain": ["a","b","c"], "range": ["#2e3192","#50a84f","#e02428"]}},
      "order": {"field": "s"}}}
   ],
   "resolve": {"axis": {"x": "independent", "y": "independent"}}}}
]},
{"spacing": 2, "hconcat": [
 {"data": {"name": "d"}, "transform": [{"filter": "datum.m=='s1' && datum.p!='A1' && datum.p!='A2'"}, {"fold": ["a","b","c"], "as": ["s","v"]}],
  "facet": {"column": {"field": "p", "type": "nominal", "title": null, "header": {"labels": false, "labelPadding": 0}}},
  "spacing": 9.5,
  "spec": {"width": 140, "height": 132,
   "layer": [
    {"mark": {"type": "line", "clip": true}, "encoding": {
      "x": {"field": "x", "type": "quantitative", "scale": {"type": "log", "domain": [3, 20], "nice": false}, "axis": {"values": [4,8,16], "labels": false, "title": null}},
      "y": {"field": "v", "type": "quantitative", "scale": {"domain": [0.3, 1], "nice": false, "zero": false}, "axis": {"values": [0.5,0.7,0.9], "title": "σₘₑₐₙ", "format": ".1f", "labelPadding": 7, "minExtent": 48, "maxExtent": 48, "titlePadding": 4}},
      "color": {"field": "s", "type": "nominal", "scale": {"domain": ["a","b","c"], "range": ["#2e3192","#50a84f","#e02428"]}}}},
    {"mark": {"type": "point", "clip": true}, "encoding": {
      "x": {"field": "x", "type": "quantitative", "scale": {"type": "log", "domain": [3, 20], "nice": false}, "axis": {"values": [5,6,7,9,10], "orient": "top", "labels": false, "title": null, "gridDash": [1,3], "gridColor": "#b5b5b5"}},
      "y": {"field": "v", "type": "quantitative", "scale": {"domain": [0.3, 1], "nice": false, "zero": false}, "axis": null},
      "color": {"field": "s", "type": "nominal", "scale": {"domain": ["a","b","c"], "range": ["#2e3192","#50a84f","#e02428"]}},
      "order": {"field": "s"}}}
   ],
   "resolve": {"axis": {"x": "independent", "y": "independent"}}}},
 {"data": {"name": "d"}, "transform": [{"filter": "datum.m=='s1' && (datum.p=='A1' || datum.p=='A2')"}, {"fold": ["a","b","c"], "as": ["s","v"]}],
  "facet": {"column": {"field": "p", "type": "nominal", "title": null, "header": {"labels": false, "labelPadding": 0}}},
  "spacing": 9.5,
  "spec": {"width": 140, "height": 132,
   "layer": [
    {"mark": {"type": "line", "clip": true}, "encoding": {
      "x": {"field": "x", "type": "quantitative", "scale": {"domain": [0, 90], "nice": false}, "axis": {"values": [30,60,90], "labels": false, "title": null}},
      "y": {"field": "v", "type": "quantitative", "scale": {"domain": [0.3, 1], "nice": false, "zero": false}, "axis": {"values": [0.5,0.7,0.9], "labels": false, "title": null, "minExtent": 0, "maxExtent": 0}},
      "color": {"field": "s", "type": "nominal", "scale": {"domain": ["a","b","c"], "range": ["#2e3192","#50a84f","#e02428"]}}}},
    {"mark": {"type": "point", "clip": true}, "encoding": {
      "x": {"field": "x", "type": "quantitative", "scale": {"domain": [0, 90], "nice": false}, "axis": null},
      "y": {"field": "v", "type": "quantitative", "scale": {"domain": [0.3, 1], "nice": false, "zero": false}, "axis": null},
      "color": {"field": "s", "type": "nominal", "scale": {"domain": ["a","b","c"], "range": ["#2e3192","#50a84f","#e02428"]}},
      "order": {"field": "s"}}}
   ],
   "resolve": {"axis": {"x": "independent", "y": "independent"}}}}
]},
{"spacing": 2, "hconcat": [
 {"data": {"name": "d"}, "transform": [{"filter": "datum.m=='s2' && datum.p!='A1' && datum.p!='A2'"}, {"fold": ["a","b","c"], "as": ["s","v"]}],
  "facet": {"column": {"field": "p", "type": "nominal", "title": null, "header": {"labels": false, "labelPadding": 0}}},
  "spacing": 9.5,
  "spec": {"width": 140, "height": 132,
   "layer": [
    {"mark": {"type": "line", "clip": true}, "encoding": {
      "x": {"field": "x", "type": "quantitative", "scale": {"type": "log", "domain": [3, 20], "nice": false}, "axis": {"values": [4,8,16], "labels": false, "title": null}},
      "y": {"field": "v", "type": "quantitative", "scale": {"domain": [0.6, 1], "nice": false, "zero": false}, "axis": {"values": [0.7,0.8,0.9], "title": "σₘₐₓ", "format": ".1f", "labelPadding": 7, "minExtent": 48, "maxExtent": 48, "titlePadding": 4}},
      "color": {"field": "s", "type": "nominal", "scale": {"domain": ["a","b","c"], "range": ["#2e3192","#50a84f","#e02428"]}}}},
    {"mark": {"type": "point", "clip": true}, "encoding": {
      "x": {"field": "x", "type": "quantitative", "scale": {"type": "log", "domain": [3, 20], "nice": false}, "axis": {"values": [5,6,7,9,10], "orient": "top", "labels": false, "title": null, "gridDash": [1,3], "gridColor": "#b5b5b5"}},
      "y": {"field": "v", "type": "quantitative", "scale": {"domain": [0.6, 1], "nice": false, "zero": false}, "axis": null},
      "color": {"field": "s", "type": "nominal", "scale": {"domain": ["a","b","c"], "range": ["#2e3192","#50a84f","#e02428"]}},
      "order": {"field": "s"}}}
   ],
   "resolve": {"axis": {"x": "independent", "y": "independent"}}}},
 {"data": {"name": "d"}, "transform": [{"filter": "datum.m=='s2' && (datum.p=='A1' || datum.p=='A2')"}, {"fold": ["a","b","c"], "as": ["s","v"]}],
  "facet": {"column": {"field": "p", "type": "nominal", "title": null, "header": {"labels": false, "labelPadding": 0}}},
  "spacing": 9.5,
  "spec": {"width": 140, "height": 132,
   "layer": [
    {"mark": {"type": "line", "clip": true}, "encoding": {
      "x": {"field": "x", "type": "quantitative", "scale": {"domain": [0, 90], "nice": false}, "axis": {"values": [30,60,90], "labels": false, "title": null}},
      "y": {"field": "v", "type": "quantitative", "scale": {"domain": [0.6, 1], "nice": false, "zero": false}, "axis": {"values": [0.7,0.8,0.9], "labels": false, "title": null, "minExtent": 0, "maxExtent": 0}},
      "color": {"field": "s", "type": "nominal", "scale": {"domain": ["a","b","c"], "range": ["#2e3192","#50a84f","#e02428"]}}}},
    {"mark": {"type": "point", "clip": true}, "encoding": {
      "x": {"field": "x", "type": "quantitative", "scale": {"domain": [0, 90], "nice": false}, "axis": null},
      "y": {"field": "v", "type": "quantitative", "scale": {"domain": [0.6, 1], "nice": false, "zero": false}, "axis": null},
      "color": {"field": "s", "type": "nominal", "scale": {"domain": ["a","b","c"], "range": ["#2e3192","#50a84f","#e02428"]}},
      "order": {"field": "s"}}}
   ],
   "resolve": {"axis": {"x": "independent", "y": "independent"}}}}
]},
{"spacing": 2, "hconcat": [
 {"data": {"name": "d"}, "transform": [{"filter": "datum.m=='q' && datum.p!='A1' && datum.p!='A2'"}, {"fold": ["a","b","c"], "as": ["s","v"]}],
  "facet": {"column": {"field": "p", "type": "nominal", "title": null, "header": {"labels": false, "labelPadding": 0}}},
  "spacing": 9.5,
  "spec": {"width": 140, "height": 132,
   "layer": [
    {"mark": {"type": "line", "clip": true}, "encoding": {
      "x": {"field": "x", "type": "quantitative", "scale": {"type": "log", "domain": [3, 20], "nice": false}, "axis": {"values": [4,8,16], "title": null, "format": "d", "labelPadding": 9}},
      "y": {"field": "v", "type": "quantitative", "scale": {"type": "log", "domain": [0.1, 200], "nice": false}, "axis": {"values": [1,10,100], "title": "q", "format": "d", "labelPadding": 7, "minExtent": 48, "maxExtent": 48, "titlePadding": 4}},
      "color": {"field": "s", "type": "nominal", "scale": {"domain": ["a","b","c"], "range": ["#2e3192","#50a84f","#e02428"]}}}},
    {"mark": {"type": "point", "clip": true}, "encoding": {
      "x": {"field": "x", "type": "quantitative", "scale": {"type": "log", "domain": [3, 20], "nice": false}, "axis": {"values": [5,6,7,9,10], "orient": "top", "labels": false, "title": null, "gridDash": [1,3], "gridColor": "#b5b5b5"}},
      "y": {"field": "v", "type": "quantitative", "scale": {"type": "log", "domain": [0.1, 200], "nice": false}, "axis": {"values": [0.2,0.3,0.4,0.5,0.6,0.7,0.8,0.9,2,3,4,5,6,7,8,9,20,30,40,50,60,70,80,90,200], "orient": "right", "labels": false, "title": null, "gridDash": [1,3], "gridColor": "#b5b5b5", "minExtent": 0, "maxExtent": 0}},
      "color": {"field": "s", "type": "nominal", "scale": {"domain": ["a","b","c"], "range": ["#2e3192","#50a84f","#e02428"]}},
      "order": {"field": "s"}}}
   ],
   "resolve": {"axis": {"x": "independent", "y": "independent"}}}},
 {"data": {"name": "d"}, "transform": [{"filter": "datum.m=='q' && (datum.p=='A1' || datum.p=='A2')"}, {"fold": ["a","b","c"], "as": ["s","v"]}],
  "facet": {"column": {"field": "p", "type": "nominal", "title": null, "header": {"labels": false, "labelPadding": 0}}},
  "spacing": 9.5,
  "spec": {"width": 140, "height": 132,
   "layer": [
    {"mark": {"type": "line", "clip": true}, "encoding": {
      "x": {"field": "x", "type": "quantitative", "scale": {"domain": [0, 90], "nice": false}, "axis": {"values": [30,60,90], "title": null, "format": "d", "labelPadding": 9}},
      "y": {"field": "v", "type": "quantitative", "scale": {"type": "log", "domain": [0.1, 200], "nice": false}, "axis": {"values": [1,10,100], "labels": false, "title": null, "minExtent": 0, "maxExtent": 0}},
      "color": {"field": "s", "type": "nominal", "scale": {"domain": ["a","b","c"], "range": ["#2e3192","#50a84f","#e02428"]}}}},
    {"mark": {"type": "point", "clip": true}, "encoding": {
      "x": {"field": "x", "type": "quantitative", "scale": {"domain": [0, 90], "nice": false}, "axis": null},
      "y": {"field": "v", "type": "quantitative", "scale": {"type": "log", "domain": [0.1, 200], "nice": false}, "axis": {"values": [0.2,0.3,0.4,0.5,0.6,0.7,0.8,0.9,2,3,4,5,6,7,8,9,20,30,40,50,60,70,80,90,200], "orient": "right", "labels": false, "title": null, "gridDash": [1,3], "gridColor": "#b5b5b5", "minExtent": 0, "maxExtent": 0}},
      "color": {"field": "s", "type": "nominal", "scale": {"domain": ["a","b","c"], "range": ["#2e3192","#50a84f","#e02428"]}},
      "order": {"field": "s"}}}
   ],
   "resolve": {"axis": {"x": "independent", "y": "independent"}}}}
]},
{"spacing": 10, "hconcat": [
 {"width": 588.5, "height": 9, "data": {"values": [{"x": 0, "y": 0}, {"x": 1, "y": 0}]},
  "mark": {"type": "point", "opacity": 0, "size": 0},
  "encoding": {"x": {"field": "x", "type": "quantitative", "scale": {"domain": [0, 1], "nice": false}, "axis": {"domain": true, "domainColor": "#000", "domainWidth": 2.5, "labels": false, "grid": false, "title": "N", "titleFont": "Liberation Serif", "titleFontSize": 26, "titlePadding": 4}},
   "y": {"field": "y", "type": "quantitative", "axis": {"labels": false, "grid": false, "title": "q", "titleOpacity": 0, "minExtent": 48, "maxExtent": 48, "titlePadding": 4}}},
  "view": {"stroke": null}},
 {"width": 289.5, "height": 9, "data": {"values": [{"x": 0}, {"x": 1}]},
  "mark": {"type": "point", "opacity": 0, "size": 0},
  "encoding": {"x": {"field": "x", "type": "quantitative", "scale": {"domain": [0, 1], "nice": false}, "axis": {"domain": true, "domainColor": "#000", "domainWidth": 2.5, "labels": false, "grid": false, "title": "α₀", "titleFont": "Liberation Serif", "titleFontSize": 26, "titlePadding": 4}}},
  "view": {"stroke": null}}
]}
]}
]
}
